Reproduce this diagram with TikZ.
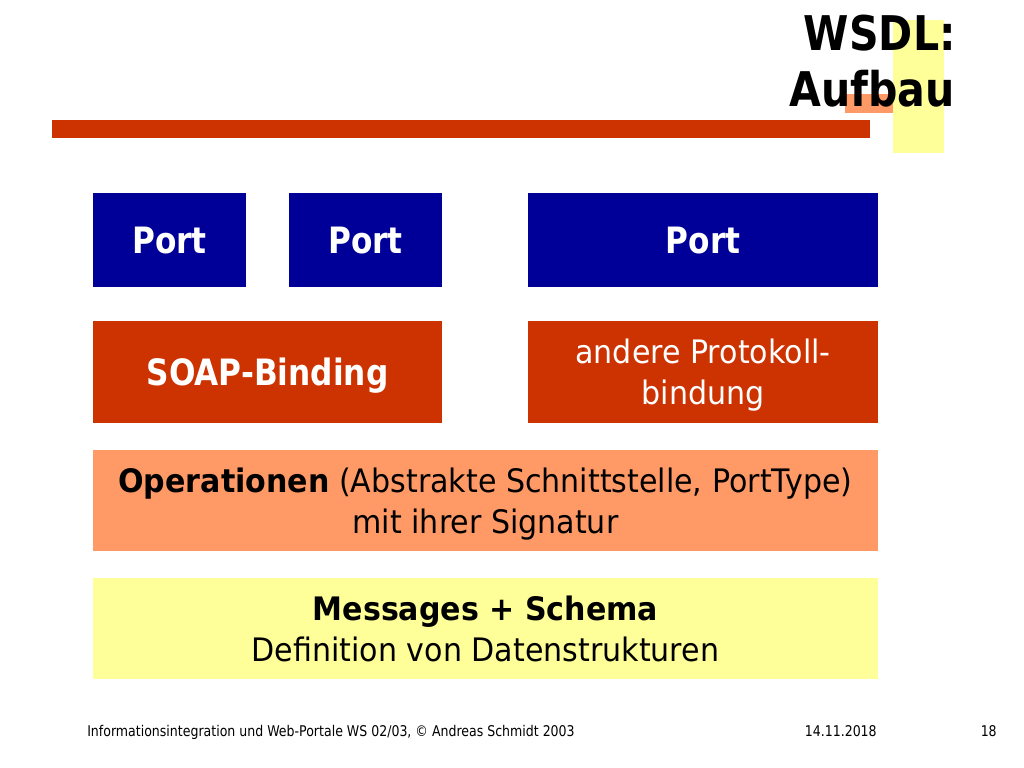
\documentclass[tikz,border=0pt]{standalone}
\usepackage{fontspec}
\setmainfont{DejaVu Sans}
\newfontfamily\boxfont[FakeStretch=0.86]{DejaVu Sans}
\newfontfamily\regfont[FakeStretch=0.93]{DejaVu Sans}
\newfontfamily\footfont[FakeStretch=0.85]{DejaVu Sans}
\usepackage{tikz}
\usetikzlibrary{positioning}
\definecolor{portblue}{HTML}{000099}
\definecolor{bindred}{HTML}{CC3300}
\definecolor{opsalmon}{HTML}{FF9966}
\definecolor{msgyellow}{HTML}{FFFF99}
\tikzset{
        layer/.style={inner sep=0pt, align=center, text depth=-2pt}, % common look of the boxes
        portbox/.style={layer, fill=portblue, text=white, minimum height=2.35cm,
                font=\boxfont\bfseries\fontsize{25.8}{29}\selectfont},
        bindbox/.style={layer, fill=bindred, text=white, minimum height=2.55cm,
                font=\boxfont\fontsize{25.8}{29}\selectfont},
        opbox/.style={layer, fill=opsalmon, minimum width=19.625cm, minimum height=2.525cm,
                font=\regfont\fontsize{23}{29}\selectfont},
        msgbox/.style={layer, fill=msgyellow, minimum width=19.625cm, minimum height=2.525cm,
                font=\regfont\fontsize{23}{29.2}\selectfont},
        footer/.style={inner sep=0pt, font=\footfont\fontsize{10.5}{12}\selectfont},
}

\begin{document}
\begin{tikzpicture}[x=0.025cm, y=-0.025cm]
\useasboundingbox[fill=white] (0,0) rectangle (1024,768);

% title decoration
\fill[msgyellow] (893,20) rectangle (944,153);
\fill[opsalmon] (845,94) rectangle (893,113);
\fill[bindred] (52,120) rectangle (870,138);

\node[anchor=base east, inner sep=0pt, font=\boxfont\bfseries\fontsize{34}{40}\selectfont] (title1) at (956,51) {WSDL:};
\node[anchor=base east, inner sep=0pt, font=\boxfont\bfseries\fontsize{34}{40}\selectfont] (title2) at (955,107) {Aufbau};

% ports
\node[portbox, minimum width=3.825cm] (port1) at (169.5,240) {Port};
\node[portbox, minimum width=3.825cm] (port2) at (365.5,240) {Port};
\node[portbox, minimum width=8.75cm] (port3) at (703,240) {Port};

% bindings
\node[bindbox, minimum width=8.725cm] (soap) at (267.5,372) {\bfseries SOAP-Binding};
\node[bindbox, minimum width=8.75cm, font=\regfont\fontsize{23}{29}\selectfont] (other) at (703,372) {andere Protokoll-\\bindung};

% abstract part
\node[opbox] (ops) at (485.5,500.5) {\textbf{Operationen} (Abstrakte Schnittstelle, PortType)\\mit ihrer Signatur};
\node[msgbox] (msgs) at (485.5,628.5) {\textbf{Messages + Schema}\\Definition von Datenstrukturen};

% footer
\node[footer, anchor=base west] (foot1) at (87,736) {Informationsintegration und Web-Portale WS 02/03, © Andreas Schmidt 2003};
\node[footer, anchor=base east] (foot2) at (877,736) {14.11.2018};
\node[footer, anchor=base east] (foot3) at (997,736) {18};

\end{tikzpicture}
\end{document}
